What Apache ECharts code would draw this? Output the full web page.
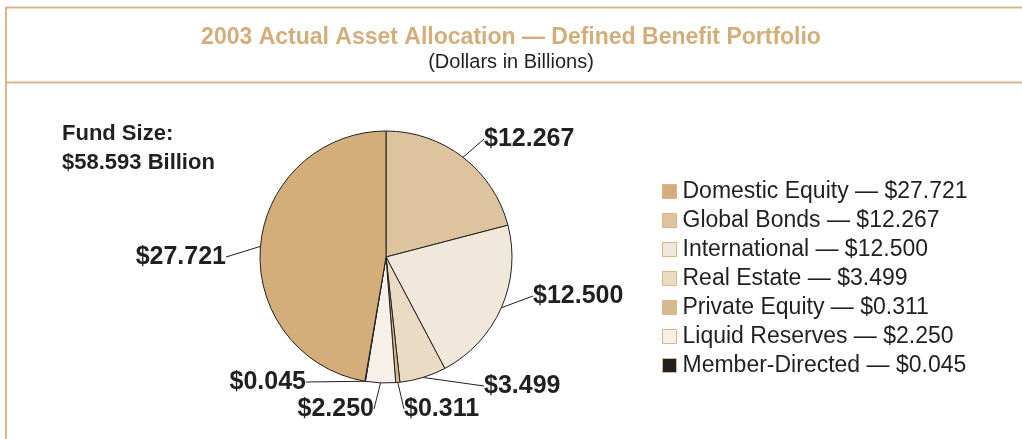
<!DOCTYPE html>
<html>
<head>
<meta charset="utf-8">
<script src="https://cdn.jsdelivr.net/npm/echarts@6/dist/echarts.min.js"></script>
<style>
  html, body { margin: 0; padding: 0; background: #fff; }
  #chart { width: 1022px; height: 439px; }
</style>
</head>
<body>
<div id="chart"></div>
<script>
// pie order, clockwise from 12 o'clock
const sliceNames = ['Global Bonds', 'International', 'Real Estate', 'Private Equity',
  'Liquid Reserves', 'Member-Directed', 'Domestic Equity'];
const sliceValues = [12.267, 12.500, 3.499, 0.311, 2.250, 0.045, 27.721];
const sliceColors = ['#DEC39F', '#F1E8DC', '#EBDAC4', '#D8B98D', '#F6F0E9', '#231F20', '#D3AE7B'];
// legend order
const legendOrder = ['Domestic Equity', 'Global Bonds', 'International', 'Real Estate',
  'Private Equity', 'Liquid Reserves', 'Member-Directed'];
const fundSize = 58.593;

const tan = '#D3AE7B';
const ink = '#231F20';
const font = 'Liberation Sans, Arial, sans-serif';

// where each outside label sits (same order as sliceNames): [x, y, align]
const labelSpots = [
  [484, 139, 'left'],
  [533, 296, 'left'],
  [484, 386, 'left'],
  [404, 409, 'left'],
  [374, 409, 'right'],
  [306, 382, 'right'],
  [226, 257, 'right']
];

const chart = echarts.init(document.getElementById('chart'));

const data = sliceNames.map((name, i) => ({
  name,
  value: sliceValues[i],
  itemStyle: { color: sliceColors[i] }
}));

const option = {
  animation: false,
  title: [
    {
      text: '2003 Actual Asset Allocation — Defined Benefit Portfolio',
      left: 'center',
      top: 21,
      textStyle: { color: tan, fontFamily: font, fontSize: 23, fontWeight: 'bold' }
    },
    {
      text: '(Dollars in Billions)',
      left: 'center',
      top: 47,
      textStyle: { color: ink, fontFamily: font, fontSize: 20, fontWeight: 'normal' }
    },
    {
      text: 'Fund Size:\n$' + fundSize.toFixed(3) + ' Billion',
      left: 62,
      top: 119,
      padding: 0,
      textStyle: { color: ink, fontFamily: font, fontSize: 22, fontWeight: 'bold', lineHeight: 29 }
    }
  ],
  graphic: [
    { type: 'line', shape: { x1: 5, y1: 7.5, x2: 1022, y2: 7.5 }, style: { stroke: '#D9B58C', lineWidth: 2 } },
    { type: 'line', shape: { x1: 6, y1: 7, x2: 6, y2: 439 }, style: { stroke: '#D9B58C', lineWidth: 2 } },
    { type: 'line', shape: { x1: 5, y1: 82.5, x2: 1022, y2: 82.5 }, style: { stroke: '#D9B58C', lineWidth: 2 } }
  ],
  legend: {
    orient: 'vertical',
    left: 657,
    top: 175,
    itemWidth: 14,
    itemHeight: 14,
    itemGap: 6,
    icon: 'rect',
    data: legendOrder,
    itemStyle: { borderColor: '#D9B58C', borderWidth: 1 },
    formatter: name => name + ' — $' + sliceValues[sliceNames.indexOf(name)].toFixed(3),
    textStyle: { color: ink, fontFamily: font, fontSize: 23, padding: [0, 0, 0, 1] }
  },
  series: [
    {
      type: 'pie',
      center: [386, 257],
      radius: 126,
      startAngle: 90,
      clockwise: true,
      avoidLabelOverlap: false,
      minShowLabelAngle: 0,
      data,
      itemStyle: { borderColor: ink, borderWidth: 1 },
      label: {
        show: true,
        formatter: p => '$' + p.value.toFixed(3),
        color: ink,
        fontFamily: font,
        fontSize: 25,
        fontWeight: 'bold'
      },
      labelLine: {
        show: true,
        length: 20,
        length2: 0,
        lineStyle: { color: ink, width: 1 }
      },
      labelLayout: params => {
        const spot = labelSpots[params.dataIndex];
        return {
          x: spot[0],
          y: spot[1],
          align: spot[2],
          verticalAlign: 'middle',
          hideOverlap: false
        };
      },
      emphasis: { disabled: true }
    }
  ]
};

chart.setOption(option);
</script>
</body>
</html>
